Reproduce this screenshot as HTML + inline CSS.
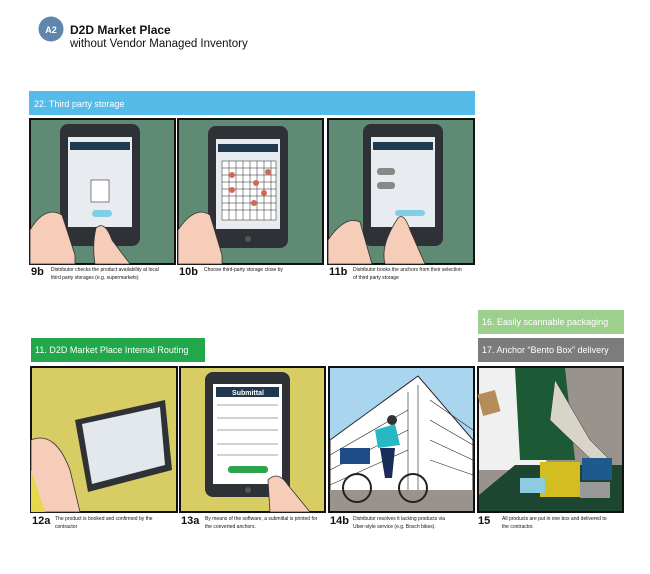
<!DOCTYPE html>
<html><head><meta charset="utf-8"><style>
body{margin:0;background:#fff;}
svg{display:block;font-family:"Liberation Sans",sans-serif;}
.cap{font-size:5px;fill:#111;}
.num{font-size:11px;font-weight:bold;fill:#111;}
</style></head><body>
<svg width="650" height="574" viewBox="0 0 650 574" xmlns="http://www.w3.org/2000/svg">
<rect width="650" height="574" fill="#fff"/>
<circle cx="51" cy="29" r="12.5" fill="#5f86ad"/>
<text x="51" y="33" font-size="9" font-weight="bold" fill="#fff" text-anchor="middle">A2</text>
<text x="70" y="34" font-size="12" font-weight="bold" fill="#111">D2D Market Place</text>
<text x="70" y="47" font-size="11.5" fill="#111">without Vendor Managed Inventory</text>

<rect x="29" y="91" width="446" height="24" fill="#55bce9"/>
<text x="34" y="107" font-size="9" fill="#fff">22. Third party  storage</text>

<!-- row 1 panels -->
<g stroke="#111" stroke-width="2">
<rect x="30" y="119" width="145" height="145" fill="#5f8a73"/>
<rect x="178" y="119" width="145" height="145" fill="#5f8a73"/>
<rect x="328" y="119" width="146" height="145" fill="#5f8a73"/>
</g>
<!-- tablets row1 -->
<g>
<rect x="60" y="124" width="80" height="122" rx="8" fill="#2e3135"/>
<rect x="68" y="137" width="64" height="90" fill="#e8ecf0"/>
<rect x="70" y="142" width="60" height="8" fill="#1f3a50"/>
<rect x="92" y="210" width="20" height="7" rx="3.5" fill="#7fd0e4"/>
<rect x="91" y="180" width="18" height="22" fill="#fff" stroke="#333" stroke-width="0.6"/>
<circle cx="100" cy="239" r="3" fill="#555"/>
<path d="M30 230 Q45 205 62 215 L75 255 L75 264 L30 264Z" fill="#f6cdb9" stroke="#333" stroke-width="0.8"/>
<path d="M96 228 Q105 220 112 240 L130 264 L95 264 Q92 245 96 228Z" fill="#f6cdb9" stroke="#333" stroke-width="0.8"/>

<rect x="208" y="126" width="80" height="122" rx="8" fill="#2e3135"/>
<rect x="216" y="139" width="64" height="90" fill="#e8ecf0"/>
<rect x="218" y="144" width="60" height="8" fill="#1f3a50"/>
<g stroke="#222" stroke-width="0.5" fill="none">
<rect x="222" y="161" width="54" height="59" fill="#fff"/>
<path d="M222 168H276M222 175H276M222 182H276M222 189H276M222 196H276M222 203H276M222 210H276M229 161V220M236 161V220M243 161V220M250 161V220M257 161V220M264 161V220M271 161V220"/>
</g>
<g fill="#d06a55"><circle cx="232" cy="175" r="3"/><circle cx="256" cy="183" r="3"/><circle cx="268" cy="172" r="3"/><circle cx="232" cy="190" r="3"/><circle cx="264" cy="193" r="3"/><circle cx="254" cy="203" r="3"/></g>
<circle cx="248" cy="239" r="3" fill="#555"/>
<path d="M178 230 Q195 205 210 215 L222 255 L222 264 L178 264Z" fill="#f6cdb9" stroke="#333" stroke-width="0.8"/>

<rect x="363" y="124" width="80" height="122" rx="8" fill="#2e3135"/>
<rect x="371" y="137" width="64" height="90" fill="#e8ecf0"/>
<rect x="373" y="142" width="60" height="8" fill="#1f3a50"/>
<rect x="377" y="168" width="18" height="7" rx="3" fill="#888"/>
<rect x="377" y="182" width="18" height="7" rx="3" fill="#888"/>
<rect x="395" y="210" width="30" height="6" rx="3" fill="#7fd0e4"/>
<circle cx="403" cy="239" r="3" fill="#555"/>
<path d="M398 218 Q404 212 410 230 L425 264 L385 264 Q380 245 398 218Z" fill="#f6cdb9" stroke="#333" stroke-width="0.8"/>
<path d="M328 240 Q345 215 360 222 L372 264 L328 264Z" fill="#f6cdb9" stroke="#333" stroke-width="0.8"/>
</g>

<text class="num" x="31" y="275">9b</text>
<text class="cap" x="51" y="271">Distributor checks the product availability at local</text>
<text class="cap" x="51" y="279">third party storages (e.g. supermarkets)</text>
<text class="num" x="179" y="275">10b</text>
<text class="cap" x="204" y="271">Choose third-party  storage close by</text>
<text class="num" x="329" y="275">11b</text>
<text class="cap" x="353" y="271">Distributor books the anchors from their selection</text>
<text class="cap" x="353" y="279">of third party storage</text>

<rect x="478" y="310" width="146" height="24" fill="#9dd08d"/>
<text x="482" y="325" font-size="9" fill="#fff">16. Easily scannable packaging</text>
<rect x="478" y="338" width="146" height="24" fill="#7c7c7e"/>
<text x="482" y="353" font-size="9" fill="#fff">17. Anchor “Bento Box” delivery</text>
<rect x="31" y="338" width="174" height="24" fill="#22a74a"/>
<text x="35" y="353" font-size="9" fill="#fff">11. D2D Market Place Internal Routing</text>

<!-- row 2 -->
<g stroke="#111" stroke-width="2">
<rect x="31" y="367" width="146" height="145" fill="#d8cc64"/>
<rect x="180" y="367" width="145" height="145" fill="#d8cc64"/>
<rect x="329" y="367" width="145" height="145" fill="#a9d6ee"/>
<rect x="478" y="367" width="145" height="145" fill="#fff"/>
</g>
<!-- 12a -->
<path d="M75 420 L165 400 L172 470 L88 492Z" fill="#2e3135"/>
<path d="M82 424 L160 407 L165 465 L92 484Z" fill="#e2e8ec"/>
<path d="M31 440 Q55 430 70 470 L80 512 L31 512Z" fill="#f6cdb9" stroke="#333" stroke-width="0.8"/>
<path d="M31 470 L45 512 L31 512Z" fill="#e6d84a"/>
<!-- 13a -->
<rect x="205" y="372" width="85" height="125" rx="8" fill="#2e3135"/>
<rect x="213" y="384" width="69" height="100" fill="#fff"/>
<rect x="216" y="387" width="63" height="10" fill="#1f3a50"/>
<text x="248" y="395" font-size="7" font-weight="bold" fill="#fff" text-anchor="middle">Submittal</text>
<rect x="228" y="466" width="40" height="7" rx="3" fill="#2ea44c"/>
<g stroke="#888" stroke-width="0.7"><path d="M217 405H278M217 418H278M217 430H278M217 444H278M217 455H278"/></g>
<circle cx="248" cy="490" r="3" fill="#555"/>
<path d="M268 480 Q278 470 288 485 L310 512 L270 512Z" fill="#f6cdb9" stroke="#333" stroke-width="0.8"/>
<!-- 14b -->
<path d="M330 440 L418 376 L473 440 L473 495 L330 495Z" fill="#fff" stroke="#222" stroke-width="1"/>
<g stroke="#222" stroke-width="0.6"><path d="M418 385V495M408 392V495M430 400L473 430M430 420L473 445M430 440L473 460M430 460L473 475M330 455L408 410M330 470L408 430M330 485L408 450"/></g>
<rect x="330" y="490" width="143" height="21" fill="#9a928c"/>
<circle cx="357" cy="488" r="14" fill="none" stroke="#222" stroke-width="2"/>
<circle cx="413" cy="488" r="14" fill="none" stroke="#222" stroke-width="2"/>
<rect x="340" y="448" width="30" height="16" fill="#1d4c86"/>
<path d="M375 430 L395 424 L400 445 L378 448Z" fill="#26b8c4"/>
<path d="M380 448 L395 448 L392 478 L385 478Z" fill="#1a2d58"/>
<circle cx="392" cy="420" r="5" fill="#333"/>
<!-- 15 -->
<rect x="479" y="368" width="143" height="143" fill="#9a928c"/>
<path d="M479 368 L560 368 L545 470 L479 470Z" fill="#f0f0f0"/>
<path d="M515 368 L565 368 L575 460 L520 460Z" fill="#1b5a35"/>
<path d="M555 380 L590 440 L610 460 L600 468 L550 420Z" fill="#d8d4c8" stroke="#333" stroke-width="0.5"/>
<rect x="480" y="392" width="18" height="22" fill="#b58c5a" transform="rotate(-15 489 403)"/>
<path d="M515 465 L622 465 L622 511 L479 511 L479 495Z" fill="#1c4630"/>
<rect x="540" y="462" width="40" height="35" fill="#d4bd1e"/>
<rect x="582" y="458" width="30" height="22" fill="#1f5a8f"/>
<rect x="580" y="482" width="30" height="16" fill="#999"/>
<rect x="520" y="478" width="25" height="15" fill="#8ccbe0"/>

<text class="num" x="32" y="524">12a</text>
<text class="cap" x="55" y="520">The product is booked and confirmed by the</text>
<text class="cap" x="55" y="528">contractor</text>
<text class="num" x="181" y="524">13a</text>
<text class="cap" x="205" y="520">By means of the software, a submittal is printed for</text>
<text class="cap" x="205" y="528">the converted anchors.</text>
<text class="num" x="330" y="524">14b</text>
<text class="cap" x="353" y="520">Distributor resolves it lacking products via</text>
<text class="cap" x="353" y="528">Uber-style service (e.g. Bosch bikes).</text>
<text class="num" x="478" y="524">15</text>
<text class="cap" x="502" y="520">All products are put in one box and delivered to</text>
<text class="cap" x="502" y="528">the contractor.</text>
</svg>
</body></html>
